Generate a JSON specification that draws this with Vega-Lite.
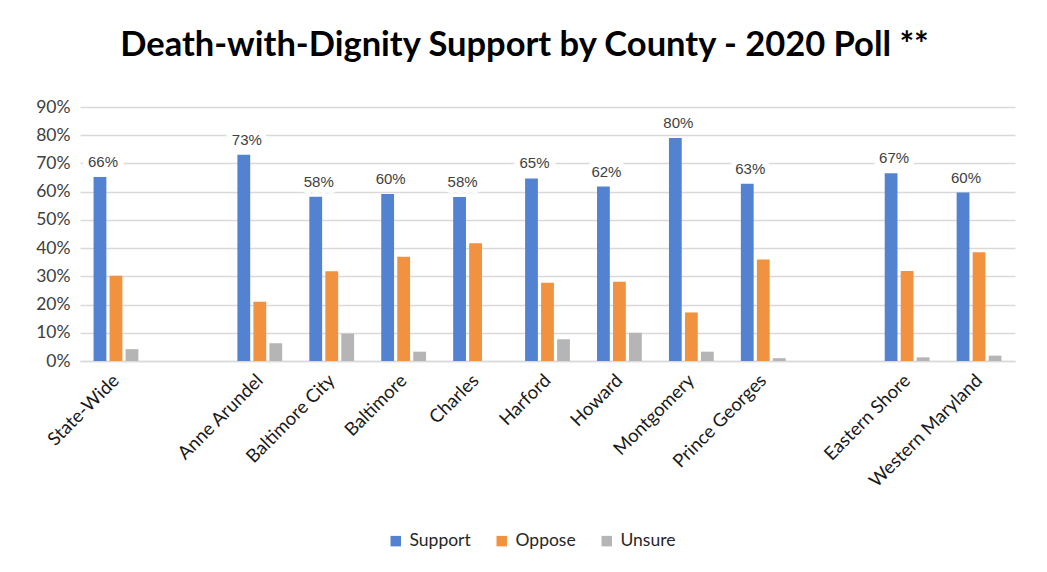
{
  "$schema": "https://vega.github.io/schema/vega-lite/v6.json",
  "width": 935,
  "height": 254,
  "autosize": {"type": "none"},
  "padding": {"left": 80, "top": 107, "right": 32, "bottom": 211},
  "background": "white",
  "title": {
    "text": "Death-with-Dignity Support by County - 2020 Poll **",
    "font": "Lato",
    "fontSize": 34.5,
    "fontWeight": "bold",
    "color": "#000000",
    "anchor": "middle",
    "dx": -23,
    "offset": 35
  },
  "config": {
    "view": {"stroke": null},
    "axis": {"labelFont": "Lato", "titleFont": "Lato"},
    "legend": {"labelFont": "Lato"}
  },
  "data": {
    "values": [
      {"county": "State-Wide", "response": "Support", "value": 0.652, "label": "66%"},
      {"county": "State-Wide", "response": "Oppose", "value": 0.302},
      {"county": "State-Wide", "response": "Unsure", "value": 0.042},
      {"county": "Anne Arundel", "response": "Support", "value": 0.731, "label": "73%"},
      {"county": "Anne Arundel", "response": "Oppose", "value": 0.21},
      {"county": "Anne Arundel", "response": "Unsure", "value": 0.063},
      {"county": "Baltimore City", "response": "Support", "value": 0.582, "label": "58%"},
      {"county": "Baltimore City", "response": "Oppose", "value": 0.318},
      {"county": "Baltimore City", "response": "Unsure", "value": 0.097},
      {"county": "Baltimore", "response": "Support", "value": 0.592, "label": "60%"},
      {"county": "Baltimore", "response": "Oppose", "value": 0.369},
      {"county": "Baltimore", "response": "Unsure", "value": 0.033},
      {"county": "Charles", "response": "Support", "value": 0.581, "label": "58%"},
      {"county": "Charles", "response": "Oppose", "value": 0.417},
      {"county": "Charles", "response": "Unsure", "value": 0.0},
      {"county": "Harford", "response": "Support", "value": 0.647, "label": "65%"},
      {"county": "Harford", "response": "Oppose", "value": 0.277},
      {"county": "Harford", "response": "Unsure", "value": 0.077},
      {"county": "Howard", "response": "Support", "value": 0.618, "label": "62%"},
      {"county": "Howard", "response": "Oppose", "value": 0.281},
      {"county": "Howard", "response": "Unsure", "value": 0.1},
      {"county": "Montgomery", "response": "Support", "value": 0.79, "label": "80%"},
      {"county": "Montgomery", "response": "Oppose", "value": 0.172},
      {"county": "Montgomery", "response": "Unsure", "value": 0.033},
      {"county": "Prince Georges", "response": "Support", "value": 0.628, "label": "63%"},
      {"county": "Prince Georges", "response": "Oppose", "value": 0.36},
      {"county": "Prince Georges", "response": "Unsure", "value": 0.01},
      {"county": "Eastern Shore", "response": "Support", "value": 0.665, "label": "67%"},
      {"county": "Eastern Shore", "response": "Oppose", "value": 0.319},
      {"county": "Eastern Shore", "response": "Unsure", "value": 0.013},
      {"county": "Western Maryland", "response": "Support", "value": 0.597, "label": "60%"},
      {"county": "Western Maryland", "response": "Oppose", "value": 0.385},
      {"county": "Western Maryland", "response": "Unsure", "value": 0.019}
    ]
  },
  "encoding": {
    "x": {
      "field": "county",
      "type": "nominal",
      "scale": {
        "domain": ["State-Wide", "gap1", "Anne Arundel", "Baltimore City", "Baltimore", "Charles", "Harford", "Howard", "Montgomery", "Prince Georges", "gap2", "Eastern Shore", "Western Maryland"],
        "paddingInner": 0.377,
        "paddingOuter": 0.1885
      },
      "axis": {
        "title": null,
        "labelAngle": -45,
        "labelAlign": "right",
        "labelBaseline": "middle",
        "labelFontSize": 18.5,
        "labelColor": "#1a1a1a",
        "labelPadding": 16,
        "labelExpr": "indexof(datum.value, 'gap') == 0 ? '' : datum.value",
        "ticks": false,
        "domain": true,
        "domainColor": "#d9d9d9",
        "domainWidth": 1.5,
        "grid": false
      }
    },
    "xOffset": {
      "field": "response",
      "type": "nominal",
      "scale": {"domain": ["Support", "Oppose", "Unsure"], "paddingInner": 0.2, "paddingOuter": 0}
    },
    "y": {
      "field": "value",
      "type": "quantitative",
      "scale": {"domain": [0, 0.9], "nice": false},
      "axis": {
        "title": null,
        "format": ".0%",
        "values": [0, 0.1, 0.2, 0.3, 0.4, 0.5, 0.6, 0.7, 0.8, 0.9],
        "labelFontSize": 17.5,
        "labelColor": "#404040",
        "labelPadding": 10,
        "ticks": false,
        "domain": false,
        "gridColor": "#d9d9d9",
        "gridWidth": 1.5
      }
    }
  },
  "layer": [
    {
      "mark": {"type": "bar"},
      "encoding": {
        "color": {
          "field": "response",
          "type": "nominal",
          "scale": {"domain": ["Support", "Oppose", "Unsure"], "range": ["#5383D0", "#F09240", "#B5B5B5"]},
          "legend": {
            "title": null,
            "orient": "none",
            "legendX": 307,
            "legendY": 425,
            "padding": 0,
            "direction": "horizontal",
            "symbolType": "square",
            "symbolSize": 110,
            "symbolStrokeWidth": 0,
            "labelFontSize": 17.5,
            "labelColor": "#262626",
            "labelOffset": 5,
            "columnPadding": 22
          }
        }
      }
    },
    {
      "transform": [{"filter": "datum.response == 'Support'"}],
      "mark": {"type": "text", "font": "Liberation Sans", "fontSize": 15, "baseline": "bottom", "dy": -7, "dx": 3, "stroke": "white", "strokeWidth": 12, "strokeJoin": "round", "fill": "white"},
      "encoding": {"text": {"field": "label"}}
    },
    {
      "transform": [{"filter": "datum.response == 'Support'"}],
      "mark": {"type": "text", "font": "Liberation Sans", "fontSize": 15, "baseline": "bottom", "dy": -7, "dx": 3, "color": "#404040"},
      "encoding": {"text": {"field": "label"}}
    }
  ]
}
